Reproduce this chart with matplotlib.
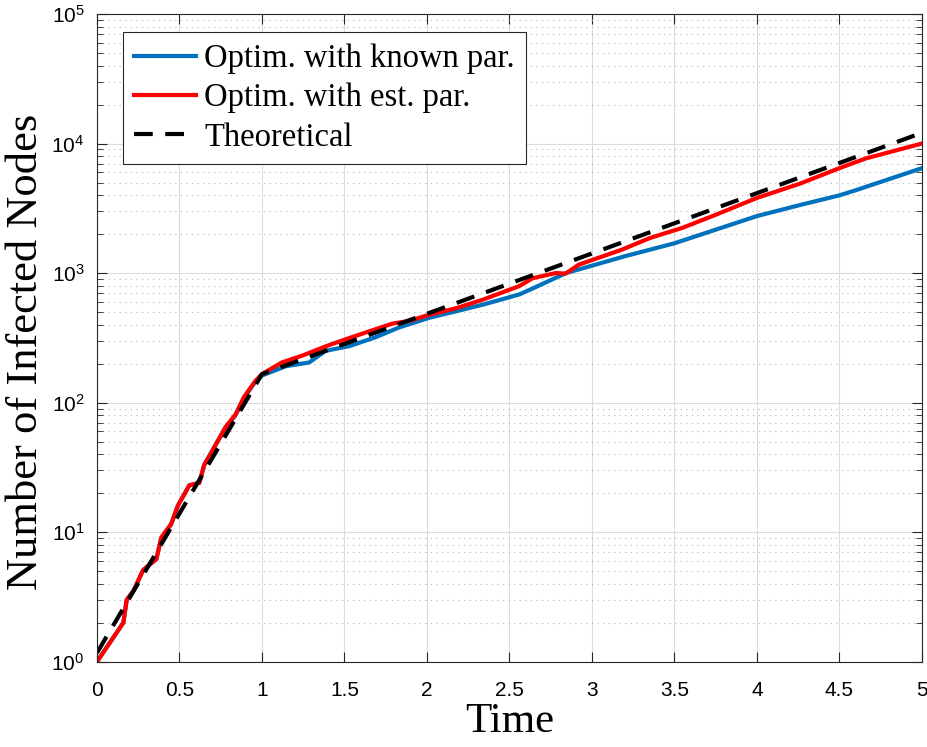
import matplotlib
matplotlib.use("Agg")
import matplotlib.pyplot as plt
from matplotlib.ticker import LogLocator, NullFormatter, FixedLocator

# time / infected counts
t_known = [0, 0.16, 0.18, 0.22, 0.28, 0.36, 0.39, 0.45, 0.49, 0.56, 0.62, 0.65,
           0.71, 0.78, 0.84, 0.89, 0.96, 1.0, 1.145, 1.286, 1.386, 1.53, 1.69,
           1.83, 2.015, 2.177, 2.34, 2.56, 2.64, 2.843, 3.2, 3.5, 4.0, 4.26,
           4.5, 4.6, 5.0]
n_known = [1, 2.0, 3.0, 3.5, 5.1, 6.2, 9.0, 11.5, 16, 23, 24, 33, 45, 64, 80,
           108, 145, 162, 191, 204, 251, 273, 320, 380, 452, 507, 571, 684,
           760, 1000, 1349, 1698, 2754, 3350, 3981, 4365, 6457]

t_est = [0, 0.16, 0.18, 0.22, 0.28, 0.36, 0.39, 0.45, 0.49, 0.56, 0.62, 0.65,
         0.71, 0.78, 0.84, 0.89, 0.96, 1.0, 1.12, 1.25, 1.39, 1.51, 1.65,
         1.79, 1.89, 2.02, 2.18, 2.34, 2.56, 2.64, 2.78, 2.84, 2.92, 3.18,
         3.35, 3.55, 3.75, 4.0, 4.26, 4.5, 4.66, 5.0]
n_est = [1, 2.0, 3.0, 3.5, 5.1, 6.2, 9.1, 11.6, 16, 23, 24, 33, 45, 65, 81,
         110, 147, 166, 204, 232, 273, 309, 355, 407, 427, 479, 537, 624, 794,
         912, 1000, 990, 1161, 1514, 1862, 2239, 2818, 3802, 4898, 6457, 7674,
         10000]

t_theory = [0, 1, 5]
n_theory = [1.17, 166, 12100]

xticks = [0, 0.5, 1, 1.5, 2, 2.5, 3, 3.5, 4, 4.5, 5]
xlabels = ["0", "0.5", "1", "1.5", "2", "2.5", "3", "3.5", "4", "4.5", "5"]

plt.rcParams["font.family"] = ["Liberation Sans", "DejaVu Sans"]
plt.rcParams["mathtext.default"] = "regular"
serif = ["Liberation Serif", "DejaVu Serif"]

fig = plt.figure(figsize=(9.27, 7.47), dpi=100)
ax = fig.add_axes([0.1046, 0.1142, 0.8900, 0.8671])

ax.plot(t_known, n_known, color="#0072BD", lw=3, label="Optim. with known par.")
ax.plot(t_est, n_est, color="#FF0000", lw=3, label="Optim. with est. par.")
ax.plot(t_theory, n_theory, color="black", lw=3, dashes=(4.5, 3),
        label="Theoretical")

ax.set_yscale("log")
ax.set_xlim(0, 5)
ax.set_ylim(1, 1e5)
ax.xaxis.set_major_locator(FixedLocator(xticks))
ax.set_xticklabels(xlabels)
ax.yaxis.set_major_locator(LogLocator(base=10, numticks=10))
ax.yaxis.set_minor_locator(LogLocator(base=10, subs=range(2, 10), numticks=20))
ax.yaxis.set_minor_formatter(NullFormatter())

ax.grid(True, which="major", color="#dcdcdc", lw=0.8)
ax.grid(True, which="minor", axis="y", color="#b5b5b5", lw=0.8, ls=(0, (1, 4)))
ax.set_axisbelow(True)

ax.tick_params(which="both", direction="in", top=True, right=True,
               labelsize=15, colors="#262626", labelcolor="black")
ax.tick_params(which="major", length=7)
ax.tick_params(which="minor", length=4)
ax.tick_params(axis="x", pad=14)
ax.tick_params(axis="y", pad=9)
for s in ax.spines.values():
    s.set_color("#262626")
    s.set_linewidth(0.8)

ax.set_xlabel("Time", family=serif, fontsize=31, labelpad=2)
ax.set_ylabel("Number of Infected Nodes", family=serif, fontsize=32)
ax.yaxis.set_label_coords(-0.062, 0.478)

leg = ax.legend(loc="upper left", bbox_to_anchor=(0.031, 0.972), borderaxespad=0,
                prop={"family": serif, "size": 23.5},
                fancybox=False, framealpha=1, edgecolor="#262626",
                handlelength=1.9, handletextpad=0.25, borderpad=0.35, labelspacing=0.27)
leg.get_frame().set_linewidth(0.8)

fig.savefig("out.png", dpi=100)
